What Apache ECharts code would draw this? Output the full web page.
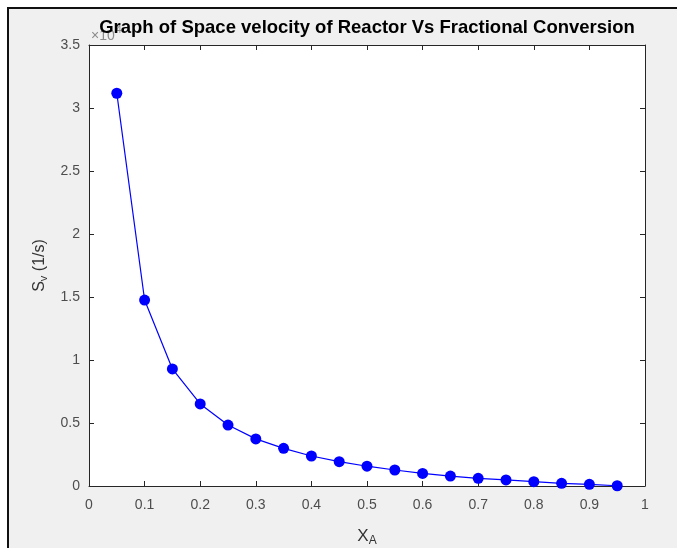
<!DOCTYPE html>
<html>
<head>
<meta charset="utf-8">
<script src="https://cdn.jsdelivr.net/npm/echarts@6/dist/echarts.min.js"></script>
<style>
html,body{margin:0;padding:0;background:#ffffff;}
#chart{width:677px;height:548px;}
</style>
</head>
<body>
<div id="chart"></div>
<script>
const xA = [0.05,0.10,0.15,0.20,0.25,0.30,0.35,0.40,0.45,0.50,0.55,0.60,0.65,0.70,0.75,0.80,0.85,0.90,0.95];
const spaceVelocity = [31170,14760,9290,6510,4840,3740,2990,2380,1930,1570,1270,1000,790,610,480,340,210,130,20];
const xTicks = [0,0.1,0.2,0.3,0.4,0.5,0.6,0.7,0.8,0.9,1];
const yTicks = [0,0.5,1,1.5,2,2.5,3,3.5];
const yScale = 10000;

const FONT = '"Liberation Sans", Arial, Helvetica, sans-serif';
const AX = '#262626';
const chart = echarts.init(document.getElementById('chart'), null, {renderer:'canvas'});
const data = xA.map((x,i)=>[x, spaceVelocity[i]]);

const fmtX = v => {
  const r = Math.round(v*10)/10;
  return (r === 0 || r === 1) ? String(r) : r.toFixed(1);
};
const fmtY = v => String(Math.round(v/yScale*10)/10);

chart.setOption({
  backgroundColor: 'transparent',
  animation: false,
  graphic: [
    {type:'rect', left:7, top:7, shape:{width:700, height:600}, style:{fill:'#f0f0f0', stroke:'#111', lineWidth:2}, z:-10, silent:true},
    {type:'rect', left:89, top:45, shape:{width:556, height:441}, style:{fill:'#ffffff'}, z:-5, silent:true},
    {type:'text', x:91, y:29, style:{text:'×10', font:'14px '+FONT, fill:'#8a8a8a'}, z:1},
    {type:'text', x:116, y:25, style:{text:'4', font:'10px '+FONT, fill:'#8a8a8a'}, z:1},
    {type:'text', x:367, y:28, style:{text:'Graph of Space velocity of Reactor Vs Fractional Conversion', font:'bold 18.5px '+FONT, fill:'#000', align:'center', verticalAlign:'middle'}, z:10}
  ],
  grid: {left:89, top:45, right:32, bottom:62, containLabel:false, outerBoundsMode:'none', show:false},
  xAxis: [{
    type:'value', min:0, max:1, interval:0.1, position:'bottom',
    axisLine:{show:true, onZero:false, lineStyle:{color:AX, width:1}},
    axisTick:{show:true, inside:true, length:5, lineStyle:{color:AX}},
    axisLabel:{show:true, formatter:fmtX, color:'#4d4d4d', fontSize:14, fontFamily:FONT, margin:12},
    splitLine:{show:false},
    name:'{m|X}{s|A}', nameLocation:'middle', nameGap:39,
    nameTextStyle:{rich:{m:{fontSize:17, fontFamily:FONT, color:'#333'}, s:{fontSize:12, fontFamily:FONT, color:'#333', verticalAlign:'bottom', padding:[10,0,0,0]}}}
  },{
    type:'value', min:0, max:1, interval:0.1, position:'top',
    axisLine:{show:true, onZero:false, lineStyle:{color:AX, width:1}},
    axisTick:{show:true, inside:true, length:5, lineStyle:{color:AX}},
    axisLabel:{show:false}, splitLine:{show:false}
  }],
  yAxis: [{
    type:'value', min:0, max:35000, interval:5000, position:'left',
    axisLine:{show:true, onZero:false, lineStyle:{color:AX, width:1}},
    axisTick:{show:true, inside:true, length:5, lineStyle:{color:AX}},
    axisLabel:{show:true, formatter:fmtY, color:'#4d4d4d', fontSize:14, fontFamily:FONT, margin:9},
    splitLine:{show:false},
    name:'{m|S}{s|v}{m| (1/s)}', nameLocation:'middle', nameGap:38, nameRotate:90,
    nameTextStyle:{rich:{m:{fontSize:16, fontFamily:FONT, color:'#333'}, s:{fontSize:11, fontFamily:FONT, color:'#333', verticalAlign:'bottom', padding:[10,0,0,0]}}}
  },{
    type:'value', min:0, max:35000, interval:5000, position:'right',
    axisLine:{show:true, onZero:false, lineStyle:{color:AX, width:1}},
    axisTick:{show:true, inside:true, length:5, lineStyle:{color:AX}},
    axisLabel:{show:false}, splitLine:{show:false}
  }],
  series: [{
    type:'line', data:data, xAxisIndex:0, yAxisIndex:0,
    symbol:'circle', symbolSize:11,
    lineStyle:{color:'#0000ff', width:1.2},
    itemStyle:{color:'#0000ff'},
    clip:false
  }]
});
</script>
</body>
</html>
